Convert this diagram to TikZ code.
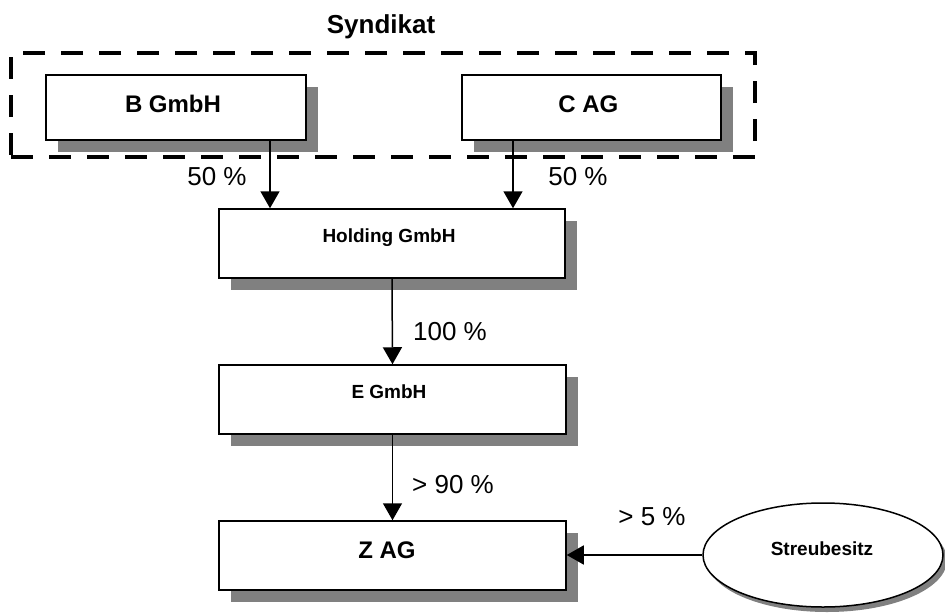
\documentclass[tikz,border=0pt]{standalone}
\usepackage{fontspec}
\setmainfont{Liberation Sans}
\usetikzlibrary{arrows.meta,shadows,shapes.geometric}
\definecolor{shadowgray}{RGB}{128,128,128}
\begin{document}
\begin{tikzpicture}[x=1pt,y=-1pt,
  box/.style={draw=black, line width=1.5pt, fill=white, rectangle, inner sep=0pt,
    drop shadow={shadow xshift=12pt, shadow yshift=-12pt, fill=shadowgray, opacity=1}},
  ellbox/.style={draw=black, line width=1.5pt, fill=white, ellipse, inner sep=0pt,
    drop shadow={shadow xshift=4pt, shadow yshift=-5pt, fill=shadowgray, opacity=1}},
  frame/.style={draw=black, line width=4pt, dash pattern=on 22pt off 16pt, inner sep=0pt},
  arr/.style={-{Triangle[length=17pt,width=19pt]}, line width=1.5pt},
  bigname/.style={font=\fontsize{24}{28}\selectfont\bfseries, anchor=base, inner sep=0pt},
  smallname/.style={font=\fontsize{19}{23}\selectfont\bfseries, anchor=base, inner sep=0pt},
  pct/.style={font=\fontsize{26}{30}\selectfont, anchor=base, inner sep=0pt},
  title/.style={font=\fontsize{26}{30}\selectfont\bfseries, anchor=base, inner sep=0pt}
]
\useasboundingbox (0,0) rectangle (945,613);

\node[title] (syndt) at (381,33) {Syndikat};
\node[frame, minimum width=744pt, minimum height=104pt] (synd) at (383,105) {};

\node[box, minimum width=260pt, minimum height=65pt] (b) at (176,107.5) {};
\node[box, minimum width=259pt, minimum height=65pt] (c) at (591.5,107.5) {};
\node[box, minimum width=346pt, minimum height=69pt] (h) at (392,243.5) {};
\node[box, minimum width=347pt, minimum height=69pt] (e) at (392.5,399.5) {};
\node[box, minimum width=347pt, minimum height=69pt] (z) at (392.5,555.5) {};
\node[ellbox, minimum width=240pt, minimum height=104pt] (s) at (823,555) {};

\node[bigname] (bt) at (173,112.7) {B GmbH};
\node[bigname] (ct) at (588.3,112.7) {C AG};
\node[smallname] (ht) at (389,242.5) {Holding GmbH};
\node[smallname] (et) at (389,398) {E GmbH};
\node[bigname] (zt) at (387,558) {Z AG};
\node[smallname] (st) at (822,555) {Streubesitz};

\draw[arr] ([xshift=94pt]b.south) -- ([xshift=94pt]b.south |- h.north);
\draw[arr] ([xshift=-78.5pt]c.south) -- ([xshift=-78.5pt]c.south |- h.north);
\draw[arr] (h.south) -- (e.north);
\draw[arr] (e.south) -- (z.north);
\draw[arr] (s.west) -- (s.west -| z.east);

\node[pct] (p1) at (217,185) {50 \%};
\node[pct] (p2) at (578,185) {50 \%};
\node[pct] (p3) at (450,340) {100 \%};
\node[pct] (p4) at (453,493) {> 90 \%};
\node[pct] (p5) at (652,525) {> 5 \%};
\end{tikzpicture}
\end{document}
